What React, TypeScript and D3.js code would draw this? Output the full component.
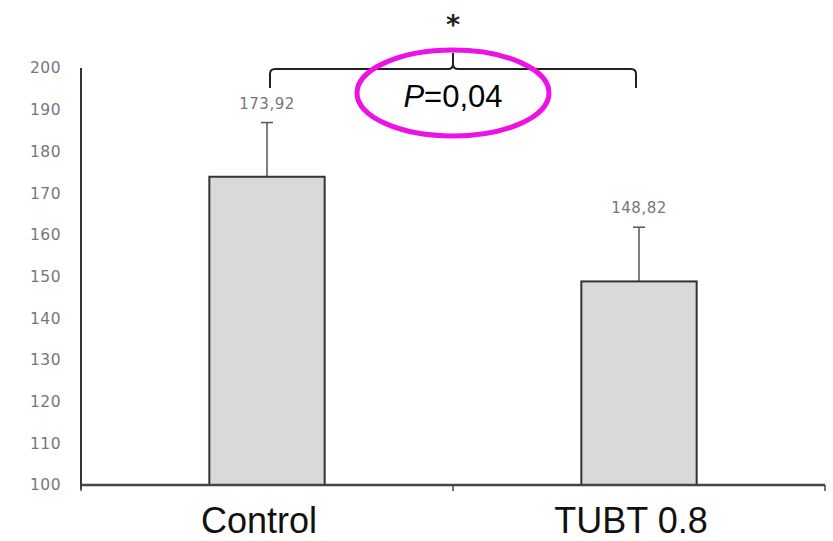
import * as d3 from 'd3'

const categories = ['Control', 'TUBT 0.8']
const means = [173.92, 148.82]
const errors = [13, 13]
const valueLabels = ['173,92', '148,82']
const yTicks = [100, 110, 120, 130, 140, 150, 160, 170, 180, 190, 200]
const pLabel = '=0,04'

const W = 833
const H = 541
const left = 81
const right = 825
const top = 68
const bottom = 485

const App = () => {
  const x = d3.scaleBand<string>().domain(categories).range([left, right]).paddingInner(0.69).paddingOuter(0.345)
  const y = d3.scaleLinear().domain([100, 200]).range([bottom, top])
  const cx = (c: string) => (x(c) as number) + x.bandwidth() / 2

  const x0 = cx(categories[0])
  const x1 = cx(categories[1])
  const mid = (x0 + x1) / 2
  const braceY = 69
  const braceEnd = 88
  const brace = d3.path()
  brace.moveTo(x0 + 3, braceEnd)
  brace.lineTo(x0 + 3, braceY + 5)
  brace.quadraticCurveTo(x0 + 3, braceY, x0 + 8, braceY)
  brace.lineTo(mid - 5, braceY)
  brace.quadraticCurveTo(mid, braceY, mid, braceY - 5)
  brace.lineTo(mid, 53)
  brace.moveTo(mid, braceY - 5)
  brace.quadraticCurveTo(mid, braceY, mid + 5, braceY)
  brace.lineTo(x1 - 8, braceY)
  brace.quadraticCurveTo(x1 - 3, braceY, x1 - 3, braceY + 5)
  brace.lineTo(x1 - 3, braceEnd)

  const xTicks = [left, (left + right) / 2, right]

  return (
    <svg width={W} height={H} style={{ position: 'absolute', left: 0, top: 0, background: '#fff' }}>
      {/* y tick labels */}
      {yTicks.map((t) => (
        <text key={t} x={61} y={y(t)} dy="0.35em" textAnchor="end" fontFamily="DejaVu Sans" fontSize={15.5} letterSpacing={0.5} fill="#777">
          {t}
        </text>
      ))}

      {/* bars */}
      {categories.map((c, i) => (
        <g key={c}>
          <line x1={cx(c)} x2={cx(c)} y1={y(means[i])} y2={y(means[i] + errors[i])} stroke="#555" strokeWidth={1.5} />
          <line x1={cx(c) - 6} x2={cx(c) + 6} y1={y(means[i] + errors[i])} y2={y(means[i] + errors[i])} stroke="#555" strokeWidth={1.5} />
          <rect x={x(c)} y={y(means[i])} width={x.bandwidth()} height={bottom - y(means[i])} fill="#d9d9d9" stroke="#333" strokeWidth={2} />
          <text x={cx(c)} y={y(means[i] + errors[i]) - 14} textAnchor="middle" fontFamily="DejaVu Sans" fontSize={15} letterSpacing={0.5} fill="#777">
            {valueLabels[i]}
          </text>
          <text x={cx(c) - 8} y={533} textAnchor="middle" fontFamily="Liberation Sans" fontSize={36} fill="#111">
            {c}
          </text>
        </g>
      ))}

      {/* axes */}
      <line x1={left} x2={left} y1={top} y2={bottom + 4} stroke="#333" strokeWidth={2} />
      <line x1={left} x2={right} y1={bottom} y2={bottom} stroke="#444" strokeWidth={2.5} />
      {xTicks.map((t) => (
        <line key={t} x1={t} x2={t} y1={bottom} y2={bottom + 6} stroke="#444" strokeWidth={1.5} />
      ))}

      {/* significance brace */}
      <path d={brace.toString()} fill="none" stroke="#222" strokeWidth={2} />
      <text x={mid} y={34} textAnchor="middle" fontFamily="DejaVu Sans" fontWeight="bold" fontSize={27} fill="#222">
        *
      </text>
      <ellipse cx={mid} cy={93} rx={96} ry={43} fill="none" stroke="#ee11e6" strokeWidth={5} />
      <text x={mid} y={107} textAnchor="middle" fontFamily="Liberation Sans" fontSize={31} fill="#000">
        <tspan fontStyle="italic">P</tspan>
        {pLabel}
      </text>
    </svg>
  )
}

export default App
